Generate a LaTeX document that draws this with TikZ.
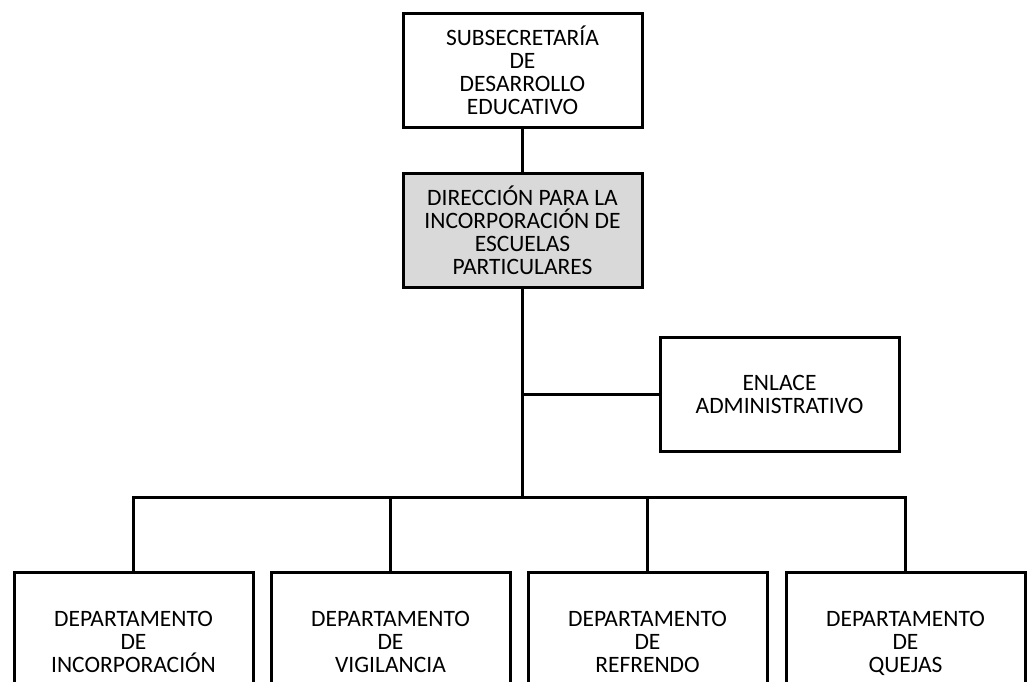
\documentclass[tikz,border=0pt]{standalone}
\usepackage{fontspec}
\setmainfont{Carlito}
\begin{document}
\begin{tikzpicture}[x=1pt,y=-1pt,
  orgbox/.style={draw=black, line width=3pt, fill=white, minimum width=239pt, minimum height=114pt,
    inner sep=0pt, outer sep=0pt, align=center, font={\fontsize{23.5}{23}\selectfont}},
  conn/.style={draw=black, line width=3pt}]
\clip (0,0) rectangle (1029,681);
\fill[white] (0,0) rectangle (1029,681);
\node[orgbox] (sub) at (522.5,70) {SUBSECRETARÍA\\DE\\DESARROLLO\\EDUCATIVO};
\node[orgbox, fill={rgb,255:red,217;green,217;blue,217}] (dir) at (522.5,230) {DIRECCIÓN PARA LA\\INCORPORACIÓN DE\\ESCUELAS\\PARTICULARES};
\node[orgbox] (enl) at (779.5,394) {ENLACE\\ADMINISTRATIVO};
\node[orgbox, minimum height=140pt] (d1) at (133.5,642) {DEPARTAMENTO\\DE\\INCORPORACIÓN};
\node[orgbox, minimum height=140pt] (d2) at (390.5,642) {DEPARTAMENTO\\DE\\VIGILANCIA};
\node[orgbox, minimum height=140pt] (d3) at (647.5,642) {DEPARTAMENTO\\DE\\REFRENDO};
\node[orgbox, minimum height=140pt] (d4) at (905.5,642) {DEPARTAMENTO\\DE\\\smash{QUEJAS}};
\coordinate (bus) at (522.5,497);
\draw[conn] (sub.south) -- (dir.north);
\draw[conn] (dir.south) -- (bus);
\draw[conn] (enl.west) -- (enl.west -| dir.south);
\draw[conn] (d1.north) -- (d1.north |- bus) -- (d4.north |- bus) -- (d4.north);
\draw[conn] (d2.north) -- (d2.north |- bus);
\draw[conn] (d3.north) -- (d3.north |- bus);
\end{tikzpicture}
\end{document}
